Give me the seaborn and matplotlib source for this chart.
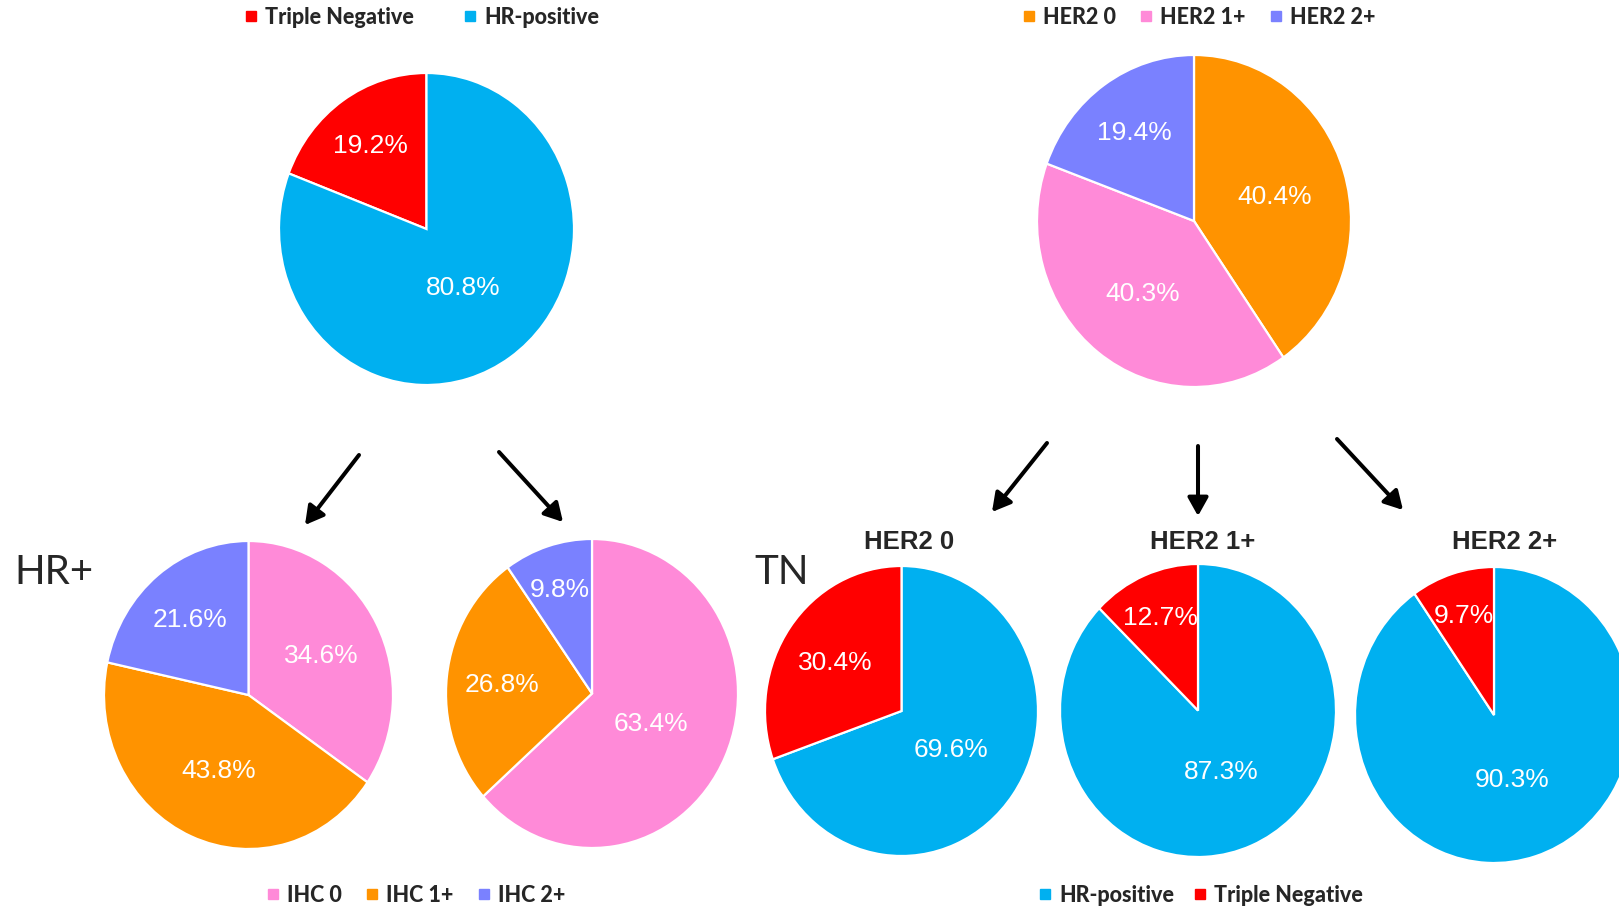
import matplotlib
matplotlib.use("Agg")
import matplotlib.pyplot as plt
import seaborn as sns
import numpy as np
from matplotlib.patches import FancyArrowPatch, ArrowStyle
from matplotlib.lines import Line2D

# ---- data (percent of cases) ----
receptor_labels = ["Triple Negative", "HR-positive"]
receptor_share = [19.2, 80.8]

her2_labels = ["HER2 0", "HER2 1+", "HER2 2+"]
her2_share = [40.4, 40.3, 19.4]

ihc_labels = ["IHC 0", "IHC 1+", "IHC 2+"]
ihc_hr_pos = [34.6, 43.8, 21.6]
ihc_tn = [63.4, 26.8, 9.8]

status_labels = ["HR-positive", "Triple Negative"]
status_her2_0 = [69.6, 30.4]
status_her2_1 = [87.3, 12.7]
status_her2_2 = [90.3, 9.7]

# ---- style ----
sns.set_theme(style="white")
plt.rcParams["font.family"] = ["Liberation Sans", "DejaVu Sans"]

RED = "#FF0000"
BLUE = "#00B0F0"
ORANGE = "#FF9300"
PINK = "#FF8AD8"
LAVENDER = "#7A81FF"

W, H = 1619, 907
fig = plt.figure(figsize=(W / 100, H / 100), dpi=100)
fig.patch.set_facecolor("white")


def fig_xy(x, y):
    return x / W, 1 - y / H


def draw_pie(cx, cy, rx, ry, values, colors, counterclock=False):
    ax = fig.add_axes([(cx - rx) / W, 1 - (cy + ry) / H, 2 * rx / W, 2 * ry / H])
    wedges, _ = ax.pie(values, colors=colors, startangle=90, counterclock=counterclock,
                       radius=1, wedgeprops=dict(edgecolor="white", linewidth=1.6))
    ax.set_xlim(-1, 1)
    ax.set_ylim(-1, 1)
    ax.set_aspect("auto")
    ax.axis("off")
    total = sum(values)
    for w, v in zip(wedges, values):
        mid = np.deg2rad((w.theta1 + w.theta2) / 2)
        d = max(0.44, 0.78 - 0.6 * v / total)
        ax.text(d * np.cos(mid), d * np.sin(mid), f"{v:.1f}%", color="white",
                fontsize=19, ha="center", va="center_baseline", family="Liberation Sans")
    return ax


# top row
draw_pie(426.5, 229, 147.5, 156, receptor_share, [RED, BLUE], counterclock=True)
draw_pie(1194, 221, 157, 166, her2_share, [ORANGE, PINK, LAVENDER])

# IHC breakdown
draw_pie(248.5, 695, 144.5, 154, ihc_hr_pos, [PINK, ORANGE, LAVENDER])
draw_pie(592, 693.5, 146, 154.5, ihc_tn, [PINK, ORANGE, LAVENDER])

# receptor status per HER2 level
draw_pie(901.5, 711, 136.5, 145, status_her2_0, [BLUE, RED])
draw_pie(1198, 710.5, 138, 146.5, status_her2_1, [BLUE, RED])
draw_pie(1494, 715, 139, 148, status_her2_2, [BLUE, RED])

# group headings
for txt, x in zip(her2_labels, [909, 1203, 1505]):
    fig.text(*fig_xy(x, 542), txt, ha="center", va="center", fontsize=18.5,
             fontweight="bold", family="Liberation Sans")
fig.text(*fig_xy(14, 572), "HR+", ha="left", va="center", fontsize=29, family="Lato")
fig.text(*fig_xy(754, 573), "TN", ha="left", va="center", fontsize=29, family="Lato")

# arrows
arrow_style = ArrowStyle("-|>", head_length=0.5, head_width=0.28)
for (x0, y0), (x1, y1) in [((359, 455), (305, 525)), ((499, 452), (563, 522)),
                           ((1047, 443), (992, 512)), ((1198, 446), (1198, 516)),
                           ((1337, 439), (1403, 510))]:
    fig.add_artist(FancyArrowPatch(fig_xy(x0, y0), fig_xy(x1, y1),
                                   transform=fig.transFigure, arrowstyle=arrow_style,
                                   mutation_scale=22, linewidth=2.9, color="black",
                                   shrinkA=0, shrinkB=0))


# legends
def add_legend(labels, colors, cx, cy, spacing):
    handles = [Line2D([], [], marker="s", linestyle="", markersize=6.5, color=c) for c in colors]
    fig.legend(handles, labels, loc="center", bbox_to_anchor=fig_xy(cx, cy), ncol=len(labels),
               frameon=False, handlelength=0.6, handletextpad=0.35, columnspacing=spacing,
               prop=dict(family="Lato", weight="black", size=15.5), borderpad=0)


add_legend(receptor_labels, [RED, BLUE], 422, 17, 2.3)
add_legend(her2_labels, [ORANGE, PINK, LAVENDER], 1199, 17, 1.1)
add_legend(ihc_labels, [PINK, ORANGE, LAVENDER], 416, 895, 1.1)
add_legend(status_labels, [BLUE, RED], 1201, 895, 0.9)

fig.savefig("out.png", dpi=100, facecolor="white")
